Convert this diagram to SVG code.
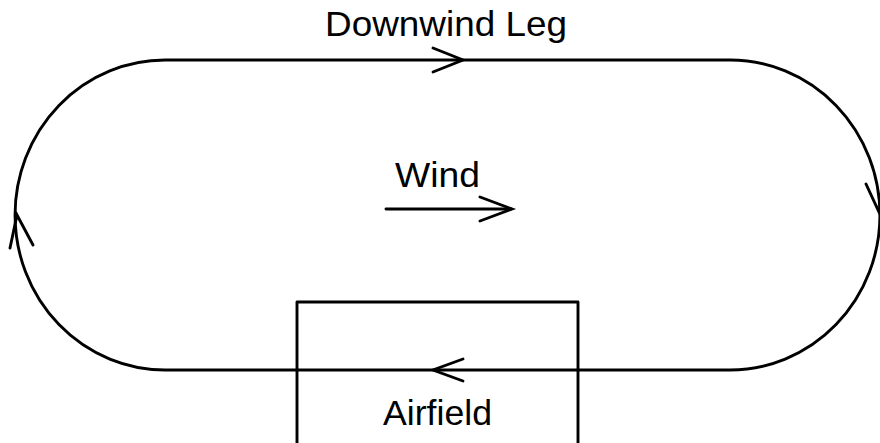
<svg xmlns="http://www.w3.org/2000/svg" width="880" height="443" viewBox="0 0 880 443">
<style>
.ln{fill:none;stroke:#000;stroke-width:2.9;stroke-linecap:round;stroke-linejoin:round}
.ah{fill:none;stroke:#000;stroke-width:2.9;stroke-linecap:round;stroke-linejoin:miter}
.t{font-family:"Liberation Sans",Arial,sans-serif;font-size:35px;fill:#000}
</style>
<rect width="880" height="443" fill="#fff"/>
<g id="airfield">
<path class="ln" d="M297,446 V302 H578 V446"/>
<text class="t" x="383" y="425" textLength="109" lengthAdjust="spacingAndGlyphs">Airfield</text>
</g>
<g id="circuit">
<path class="ln" d="M165,60 H730 A150,155 0 0 1 730,370 H165 A150,155 0 0 1 165,60 Z"/>
</g>
<g id="labels">
<text id="downwind" class="t" x="325" y="36" textLength="242" lengthAdjust="spacingAndGlyphs">Downwind Leg</text>
<text id="windlabel" class="t" x="395" y="187" textLength="85" lengthAdjust="spacingAndGlyphs">Wind</text>
</g>
<g id="connectors">
<path class="ah" d="M433,48 L463,60 L433,72"/>
<path class="ah" d="M463,359 L433,370 L463,381"/>
<path class="ln" d="M386,209 H511"/>
<path class="ah" d="M480,197 L512,209 L480,221"/>
<path class="ah" d="M10,248 L17,215 L33,245"/>
<path class="ah" d="M866,184 L879,212 L892,184"/>
</g>
</svg>
